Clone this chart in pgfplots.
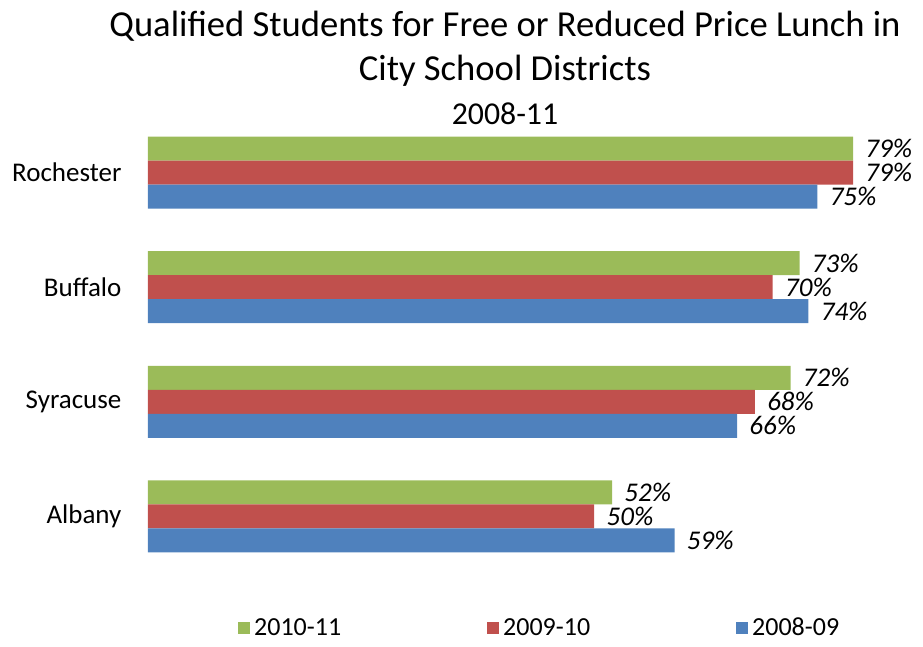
\documentclass[border=0pt]{standalone}
\usepackage{pgfplots}
\pgfplotsset{compat=1.18}
\usepackage{fontspec}
\setmainfont{Carlito}

\definecolor{cGreen}{HTML}{9BBB59}
\definecolor{cRed}{HTML}{C0504D}
\definecolor{cBlue}{HTML}{4F81BD}

\begin{document}
\begin{tikzpicture}
\begin{axis}[
  name=ax,
  scale only axis, width=357pt, height=240.5pt,
  xbar, bar width=12pt,
  xmin=0, xmax=80, ymin=-0.6, ymax=3.6,
  axis line style={draw=none}, tick style={draw=none},
  xtick=\empty,
  ytick={0,1,2,3}, yticklabels={Albany,Syracuse,Buffalo,Rochester},
  yticklabel style={font=\fontsize{13.5}{15}\selectfont, xshift=-5.5pt},
  clip=false,
  /pgf/number format/assume math mode=true,
  nodes near coords={\pgfmathprintnumber{\pgfplotspointmeta}\%},
  every node near coord/.append style={font=\fontsize{13.5}{14}\selectfont\itshape, anchor=west, xshift=5pt, inner sep=1pt},
  legend columns=3,
  legend style={draw=none, at={(0.55,-0.09)}, anchor=center,
    font=\fontsize{13}{15}\selectfont, /tikz/every even column/.append style={column sep=71pt}},
  legend image code/.code={\fill[#1] (0pt,-3pt) rectangle (6pt,3pt);},
  title style={align=center, font=\fontsize{18.3}{22}\selectfont, at={(0.5,1)}, anchor=south, yshift=-20pt},
  title={Qualified Students for Free or Reduced Price Lunch in\\City School Districts\\{\fontsize{15.9}{18}\selectfont 2008-11}},
]
\addplot[draw=none, fill=cGreen, bar shift=12pt] coordinates {(52,0) (72,1) (73,2) (79,3)};
\addlegendentry{2010-11}
\addplot[draw=none, fill=cRed, bar shift=0pt] coordinates {(50,0) (68,1) (70,2) (79,3)};
\addlegendentry{2009-10}
\addplot[draw=none, fill=cBlue, bar shift=-12pt] coordinates {(59,0) (66,1) (74,2) (75,3)};
\addlegendentry{2008-09}
\end{axis}
\path (ax.south west) ++(-74pt,-28.5pt) rectangle ++(461.5pt,321pt);
\end{tikzpicture}
\end{document}
